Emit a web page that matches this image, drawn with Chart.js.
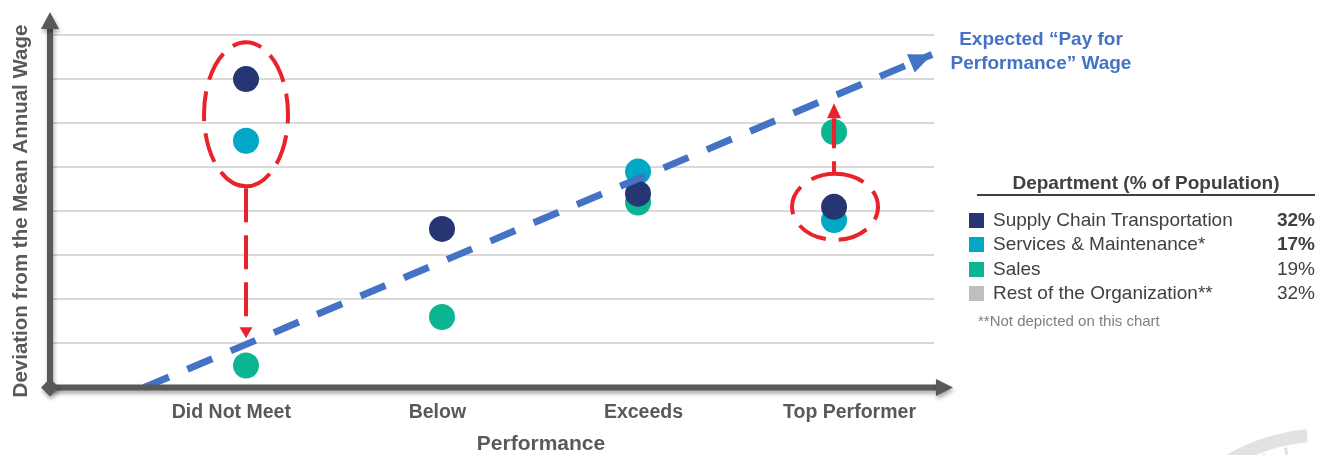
<!DOCTYPE html>
<html>
<head>
<meta charset="utf-8">
<script src="https://cdn.jsdelivr.net/npm/chart.js@4.4.0/dist/chart.umd.min.js"></script>
<style>
  html, body { margin: 0; padding: 0; background: #ffffff; }
  #wrap { position: relative; width: 1319px; height: 455px; overflow: hidden; font-family: 'Liberation Sans', Arial, sans-serif; }
  #chart { position: absolute; left: 0; top: 0; }
  .note { position: absolute; color: #4472C4; font-weight: bold; font-size: 19px; line-height: 24px; text-align: center; white-space: nowrap; }
  .lg-title { position: absolute; left: 977px; width: 338px; top: 172px; height: 22px; line-height: 22px; border-bottom: 2px solid #404040; text-align: center; font-weight: bold; font-size: 19px; color: #404040; white-space: nowrap; }
  .lg-row { position: absolute; left: 969px; width: 348px; height: 24px; line-height: 24px; font-size: 19px; color: #404040; white-space: nowrap; }
  .lg-sw { position: absolute; left: 0; top: 5px; width: 15px; height: 15px; }
  .lg-name { position: absolute; left: 24px; top: 0; }
  .lg-val { position: absolute; right: 2px; top: 0; }
  .lg-foot { position: absolute; left: 978px; top: 312px; font-size: 15px; line-height: 18px; color: #7f7f7f; white-space: nowrap; }
</style>
</head>
<body>
<div id="wrap">
  <canvas id="chart" width="1319" height="455"></canvas>
  <div class="note" style="left:941px; top:27px; width:200px;">Expected “Pay for<br>Performance” Wage</div>
  <div id="legend"></div>
</div>
<script>
// Performance ratings along the x axis
const categories = ['Did Not Meet', 'Below', 'Exceeds', 'Top Performer'];

// Deviation from the mean annual wage (grid units) per rating
const supplyChain = [7.0, 3.6, 4.4, 4.1];
const services    = [5.6, null, 4.9, 3.8];
const sales       = [0.5, 1.6, 4.2, 5.8];

// Expected "pay for performance" line: start and end [rating position, deviation]
const expectedStart = [0.48, 0];
const expectedEnd   = [4.5, 7.56];

// Legend: department share of population
const departments = ['Supply Chain Transportation', 'Services & Maintenance*', 'Sales', 'Rest of the Organization**'];
const shares      = ['32%', '17%', '19%', '32%'];
const shareBold   = [true, true, false, false];

const COLORS = ['#253672', '#00A8C6', '#0CB591', '#BFBFBF'];
const RED = '#E8232B';
const AXIS = '#595959';

// Legend (HTML)
const legend = document.getElementById('legend');
legend.innerHTML = '<div class="lg-title">Department (% of Population)</div>' +
  departments.map((d, i) =>
    `<div class="lg-row" style="top:${208 + i * 24.4}px">` +
    `<div class="lg-sw" style="background:${COLORS[i]}"></div>` +
    `<div class="lg-name">${d}</div>` +
    `<div class="lg-val" style="font-weight:${shareBold[i] ? 'bold' : 'normal'}">${shares[i]}</div></div>`
  ).join('') +
  '<div class="lg-foot">**Not depicted on this chart</div>';

function toPoints(values) {
  return values.map((v, i) => (v === null ? null : { x: i + 1, y: v })).filter(p => p);
}

function arrowHead(ctx, tipX, tipY, angle, len, halfW, color) {
  ctx.save();
  ctx.translate(tipX, tipY);
  ctx.rotate(angle);
  ctx.beginPath();
  ctx.moveTo(0, 0);
  ctx.lineTo(-len, -halfW);
  ctx.lineTo(-len, halfW);
  ctx.closePath();
  ctx.fillStyle = color;
  ctx.fill();
  ctx.restore();
}

// Custom drawing: watermark, axis arrows, red call-outs, axis titles, trend arrow head
const decorations = {
  id: 'decorations',
  beforeDraw(chart) {
    const ctx = chart.ctx;
    ctx.save();
    // faint wheel emblem in the corner
    ctx.strokeStyle = '#e2e2e2';
    ctx.lineWidth = 13;
    ctx.beginPath();
    ctx.arc(1325, 625, 190, Math.PI * 1.17, Math.PI * 1.47);
    ctx.stroke();
    ctx.lineWidth = 3;
    for (let k = 0; k < 6; k++) {
      const a = Math.PI * (1.23 + k * 0.04);
      ctx.beginPath();
      ctx.moveTo(1325 + Math.cos(a) * 182, 625 + Math.sin(a) * 182);
      ctx.lineTo(1325 + Math.cos(a) * 150, 625 + Math.sin(a) * 150);
      ctx.stroke();
    }
    ctx.restore();
  },
  afterDatasetsDraw(chart) {
    const ctx = chart.ctx;
    const x = chart.scales.x, y = chart.scales.y;
    const area = chart.chartArea;

    // arrow head of the expected-wage line
    const sx = x.getPixelForValue(expectedStart[0]), sy = y.getPixelForValue(expectedStart[1]);
    const ex = x.getPixelForValue(expectedEnd[0]), ey = y.getPixelForValue(expectedEnd[1]);
    arrowHead(ctx, ex, ey, Math.atan2(ey - sy, ex - sx), 23, 10, '#4472C4');

    // axes with arrows, origin diamond and soft shadow
    const ox = area.left, oy = y.getPixelForValue(0);
    ctx.save();
    ctx.shadowColor = 'rgba(0,0,0,0.35)';
    ctx.shadowBlur = 4;
    ctx.shadowOffsetX = 1;
    ctx.shadowOffsetY = 3;
    ctx.strokeStyle = AXIS;
    ctx.fillStyle = AXIS;
    ctx.lineWidth = 6;
    ctx.beginPath();
    ctx.moveTo(ox, oy);
    ctx.lineTo(ox, 28);
    ctx.moveTo(ox, oy);
    ctx.lineTo(937, oy);
    ctx.stroke();
    arrowHead(ctx, ox, 12, -Math.PI / 2, 17, 9, AXIS);
    arrowHead(ctx, 953, oy, 0, 17, 8.5, AXIS);
    ctx.beginPath();
    ctx.moveTo(ox - 9, oy);
    ctx.lineTo(ox, oy - 9);
    ctx.lineTo(ox + 9, oy);
    ctx.lineTo(ox, oy + 9);
    ctx.closePath();
    ctx.fill();
    ctx.restore();

    // red call-outs
    ctx.save();
    ctx.strokeStyle = RED;
    ctx.lineWidth = 4;
    ctx.setLineDash([30, 12]);

    // Did Not Meet: ring around the two high points, arrow down to the expected line
    const c1x = x.getPixelForValue(1), c1y = y.getPixelForValue(6.2);
    ctx.beginPath();
    ctx.ellipse(c1x, c1y, 42, 72, 0, Math.PI * 0.5, Math.PI * 2.5);
    ctx.stroke();
    const tip1 = y.getPixelForValue(1.12);
    ctx.setLineDash([34, 13]);
    ctx.beginPath();
    ctx.moveTo(c1x, c1y + 74);
    ctx.lineTo(c1x, tip1 - 11);
    ctx.stroke();
    arrowHead(ctx, c1x, tip1, Math.PI / 2, 11, 6.5, RED);

    // Top Performer: ring around the two low points, arrow up to the expected line
    const c4x = x.getPixelForValue(4), c4y = y.getPixelForValue(4.1);
    ctx.setLineDash([30, 13]);
    ctx.beginPath();
    ctx.ellipse(c4x + 1, c4y, 43, 33, 0, -Math.PI * 0.5, Math.PI * 1.5);
    ctx.stroke();
    const tip4 = y.getPixelForValue(6.45);
    ctx.beginPath();
    ctx.moveTo(c4x, tip4 + 15);
    ctx.lineTo(c4x, c4y - 33);
    ctx.stroke();
    ctx.setLineDash([]);
    arrowHead(ctx, c4x, tip4, -Math.PI / 2, 15, 7, RED);
    ctx.restore();

    // axis titles
    ctx.save();
    ctx.fillStyle = AXIS;
    ctx.font = 'bold 20.5px "Liberation Sans", Arial, sans-serif';
    ctx.textAlign = 'center';
    ctx.textBaseline = 'middle';
    ctx.translate(21, 211);
    ctx.rotate(-Math.PI / 2);
    ctx.fillText('Deviation from the Mean Annual Wage', 0, 0);
    ctx.restore();
    ctx.save();
    ctx.fillStyle = AXIS;
    ctx.font = 'bold 21px "Liberation Sans", Arial, sans-serif';
    ctx.textAlign = 'center';
    ctx.textBaseline = 'middle';
    ctx.fillText('Performance', 541, 444);
    ctx.restore();
  }
};

new Chart(document.getElementById('chart'), {
  type: 'scatter',
  data: {
    datasets: [
      {
        type: 'line',
        label: 'Expected "Pay for Performance" Wage',
        data: [{ x: expectedStart[0], y: expectedStart[1] }, { x: expectedEnd[0], y: expectedEnd[1] }],
        borderColor: '#4472C4',
        borderWidth: 7,
        borderDash: [27, 20],
        borderCapStyle: 'butt',
        pointRadius: 0,
        fill: false,
        clip: false
      },
      { label: departments[0], data: toPoints(supplyChain), backgroundColor: COLORS[0], pointRadius: 13, borderWidth: 0 },
      { label: departments[1], data: toPoints(services), backgroundColor: COLORS[1], pointRadius: 13, borderWidth: 0 },
      { label: departments[2], data: toPoints(sales), backgroundColor: COLORS[2], pointRadius: 13, borderWidth: 0 }
    ]
  },
  options: {
    responsive: false,
    animation: false,
    events: [],
    layout: { padding: { left: 0, right: 385, top: 7, bottom: 0 } },
    plugins: { legend: { display: false }, tooltip: { enabled: false } },
    scales: {
      x: { type: 'linear', min: 0, max: 4.51, display: false },
      xLabels: {
        type: 'linear',
        axis: 'x',
        position: 'bottom',
        min: 0.12,
        max: 4.41,
        grid: { display: false, drawTicks: false },
        border: { display: false },
        afterBuildTicks: s => { s.ticks = categories.map((c, i) => ({ value: i + 1 })); },
        afterFit: s => { s.height = 67.5; },
        ticks: {
          autoSkip: false,
          maxRotation: 0,
          padding: 13,
          color: AXIS,
          font: { family: '"Liberation Sans", Arial, sans-serif', size: 19.5, weight: 'bold' },
          callback: v => categories[Math.round(v) - 1]
        }
      },
      y: {
        type: 'linear',
        min: 0,
        max: 8.5,
        border: { display: false },
        grid: { color: '#d9d9d9', lineWidth: 2, drawTicks: false },
        afterBuildTicks: s => { s.ticks = [0, 1, 2, 3, 4, 5, 6, 7, 8].map(v => ({ value: v })); },
        afterFit: s => { s.width = 50; },
        ticks: { display: false }
      }
    }
  },
  plugins: [decorations]
});
</script>
</body>
</html>
